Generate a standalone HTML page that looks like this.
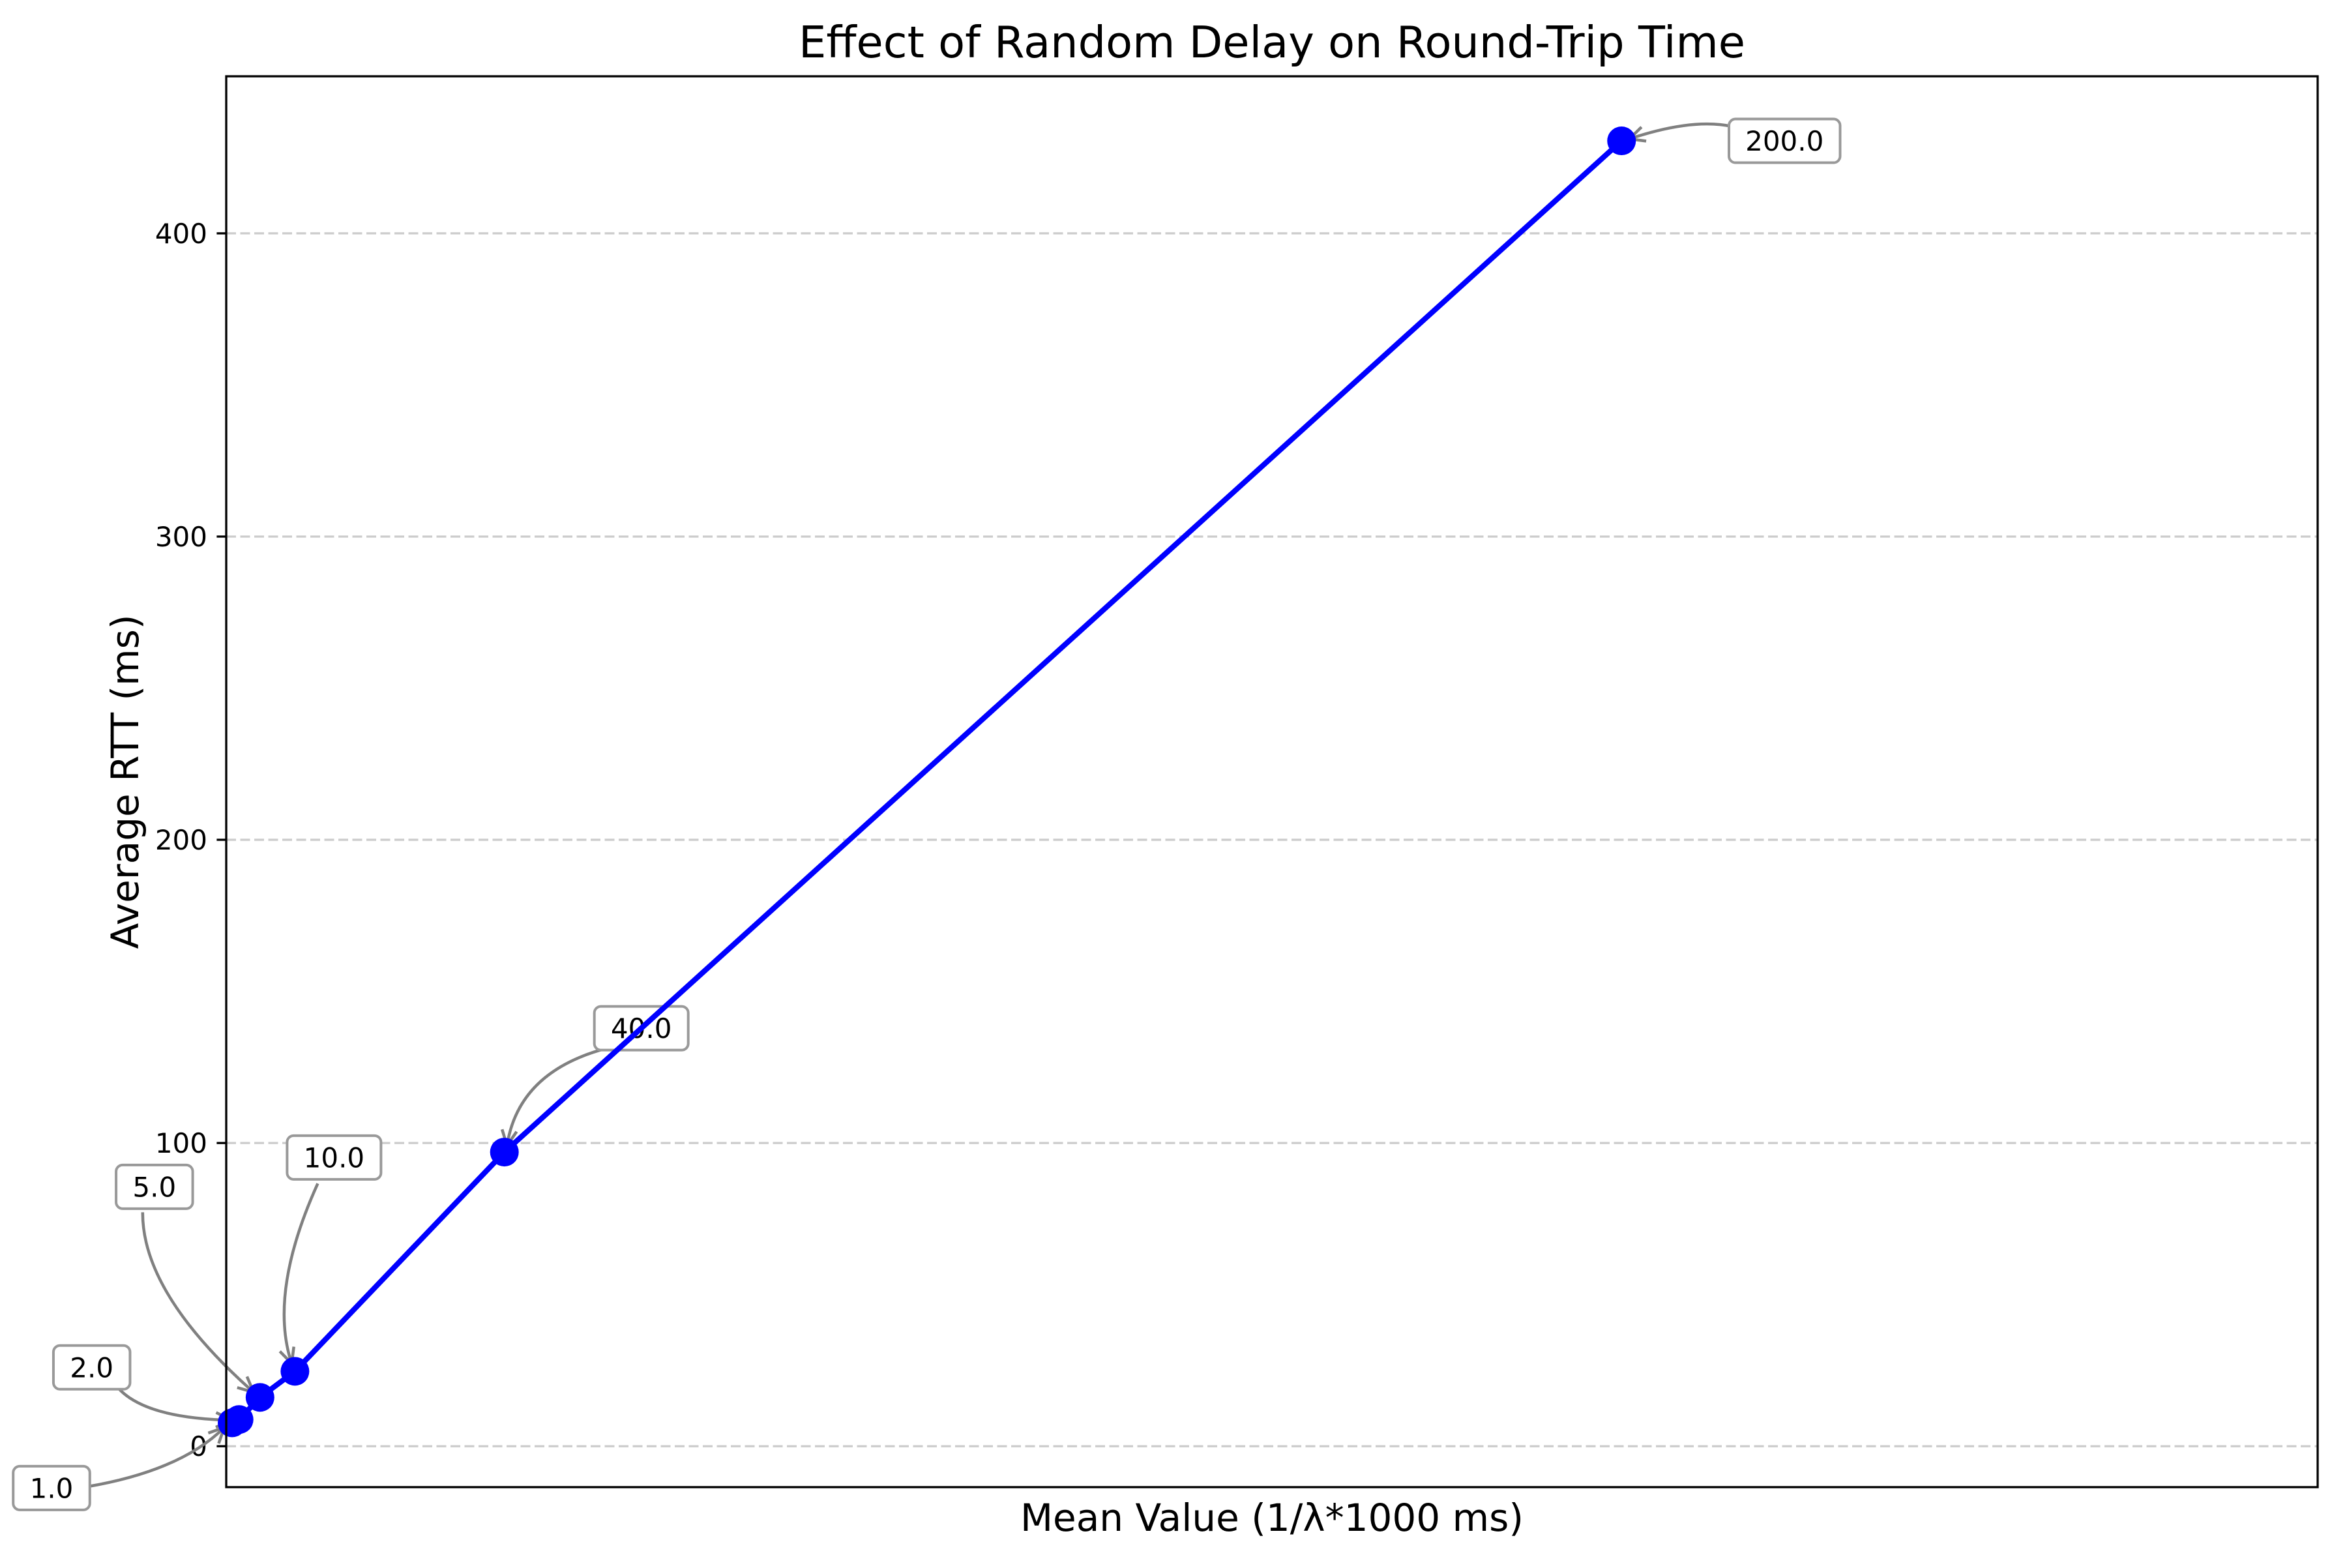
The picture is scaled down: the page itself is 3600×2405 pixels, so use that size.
<!DOCTYPE html>
<html><head><meta charset="utf-8"><style>
html,body{margin:0;padding:0;background:#fff;}
svg text{font-family:"DejaVu Sans","Liberation Sans",sans-serif;}
</style></head><body>
<svg id="chart" width="3600" height="2400" xmlns="http://www.w3.org/2000/svg">
<rect x="0" y="0" width="3600" height="2400" fill="#fff"/>
<g id="grid"></g>
<g id="ticks"></g>
<g id="annos"></g>
<g id="series"></g>
<rect x="347" y="117" width="3208" height="2164" fill="none" stroke="#000" stroke-width="3.3"/>
<text x="1951" y="88" font-size="67" text-anchor="middle">Effect of Random Delay on Round-Trip Time</text>
<text x="1951" y="2348" font-size="58" text-anchor="middle">Mean Value (1/λ*1000 ms)</text>
<text x="0" y="0" font-size="58" text-anchor="middle" transform="translate(212,1199) rotate(-90)">Average RTT (ms)</text>
</svg>
<script>
const meanValues = [1, 2, 5, 10, 40, 200];
const avgRtt = [7.7, 8.8, 16.1, 24.7, 97.0, 430.5];
const pointLabels = ["1.0", "2.0", "5.0", "10.0", "40.0", "200.0"];
const yTicks = [0, 100, 200, 300, 400];
const yTickLabels = ["0", "100", "200", "300", "400"];

const NS = "http://www.w3.org/2000/svg";
const L = 347, R = 3555, T = 117, B = 2281;
const xMin = 0.16, xMax = 299.7, yMin = -13.5, yMax = 451.8;
function xs(v){ return L + (v - xMin) / (xMax - xMin) * (R - L); }
function ys(v){ return B - (v - yMin) / (yMax - yMin) * (B - T); }
function mk(tag, attrs, parent){ const e = document.createElementNS(NS, tag); for (const k in attrs) e.setAttribute(k, attrs[k]); parent.appendChild(e); return e; }

const grid = document.getElementById('grid');
const ticks = document.getElementById('ticks');
yTicks.forEach((t, i) => {
  const y = ys(t);
  const g = mk('line', {x1: L, x2: R, y1: y, y2: y, stroke: '#cccccc', 'stroke-width': 3.3, 'stroke-dasharray': '15 6.5'}, grid);
  
  
  const tk = mk('line', {x1: L - 14.6, x2: L, y1: y, y2: y, stroke: '#000', 'stroke-width': 3.3}, ticks);
  
  
  const tx = mk('text', {x: L - 29, y: y + 15, 'font-size': 42, 'text-anchor': 'end'}, ticks);
  tx.textContent = yTickLabels[i];
  
  
});

const series = document.getElementById('series');
const pts = meanValues.map((v, i) => [xs(v), ys(avgRtt[i])]);
const line = mk('polyline', {points: pts.map(p => p.join(',')).join(' '), fill: 'none', stroke: '#0000ff', 'stroke-width': 8.3, 'stroke-linejoin': 'round'}, series);


pts.forEach(p => {
  const c = mk('circle', {cx: p[0], cy: p[1], r: 22, fill: '#0000ff'}, series);
  
  
});

const boxC = [[-277,100],[-226,-80],[-162,-323],[60,-328],[210,-190],[2237,0]];
const arrS = [[-223,98],[-186,-49],[-180,-284],[35,-288],[160,-160],[2170,-22]];
const arrE = [[-12,7],[-12,1],[-10,-8],[-5,-12],[4,-10],[12,-3]];
const arrM = [[-98,63],[-122,-13],[-138,-153],[-13,-135],[52,-105],[100,-24]];
const annos = document.getElementById('annos');
pts.forEach((p, i) => {
  let sx = p[0] + arrS[i][0], sy = p[1] + arrS[i][1];
  if (i === 5) { sx = p[0] + 170; }
  const ex = p[0] + arrE[i][0], ey = p[1] + arrE[i][1];
  let mx = p[0] + arrM[i][0], my = p[1] + arrM[i][1];
  const cx = 2 * mx - (sx + ex) / 2, cy = 2 * my - (sy + ey) / 2;
  const path = mk('path', {d: `M${sx},${sy} Q${cx},${cy} ${ex},${ey}`, fill: 'none', stroke: '#808080', 'stroke-width': 4.5}, annos);
  
  
  const ang = Math.atan2(ey - cy, ex - cx), hl = 26, ha = 0.45;
  const hd = mk('path', {d: `M${ex - hl*Math.cos(ang-ha)},${ey - hl*Math.sin(ang-ha)} L${ex},${ey} L${ex - hl*Math.cos(ang+ha)},${ey - hl*Math.sin(ang+ha)}`, fill: 'none', stroke: '#808080', 'stroke-width': 4.5}, annos);
  
  
  let bx = p[0] + boxC[i][0], by = p[1] + boxC[i][1];
  if (i === 5) { bx = p[0] + 250; by = p[1] + 0; }
  const w = pointLabels[i].length * 26.5 + 38, h = 67;
  const rb = mk('rect', {x: bx - w/2, y: by - h/2, width: w, height: h, rx: 10, fill: '#fff', stroke: '#999', 'stroke-width': 4}, annos);
  
  
  const t = mk('text', {x: bx, y: by + 15, 'font-size': 42, 'text-anchor': 'middle'}, annos);
  t.textContent = pointLabels[i];
  
  
});
</script>
</body></html>
